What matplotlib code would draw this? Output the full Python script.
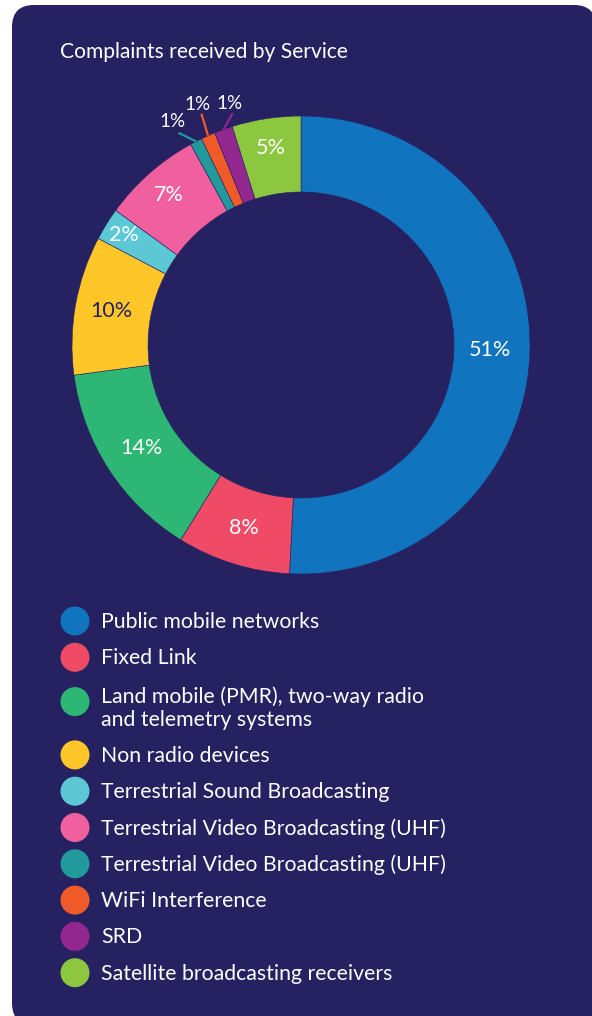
#!/usr/bin/env python
# Donut chart: complaints received by service

import numpy as np
import matplotlib
matplotlib.use('Agg')
import matplotlib.pyplot as plt
from matplotlib.patches import FancyBboxPatch, Circle

plt.rcParams['font.family'] = ['Lato', 'DejaVu Sans']

#### data
services = ['Public mobile networks',
            'Fixed Link',
            'Land mobile (PMR), two-way radio\nand telemetry systems',
            'Non radio devices',
            'Terrestrial Sound Broadcasting',
            'Terrestrial Video Broadcasting (UHF)',
            'Terrestrial Video Broadcasting (UHF)',
            'WiFi Interference',
            'SRD',
            'Satellite broadcasting receivers']
shares = [50.8, 8.0, 14.1, 9.8, 2.3, 7.0, 0.85, 1.0, 1.3, 4.85]
labels = ['%d%%' % round(v) for v in shares]
colors = ['#1174BE', '#EF4B67', '#2DB674', '#FFC629', '#5CC8D6',
          '#F0609E', '#22999A', '#F15A29', '#92278F', '#8DC63F']
title = 'Complaints received by Service'

bg = '#262262'
W, H = 592, 1016

fig = plt.figure(figsize=(W/100., H/100.), dpi=100)
fig.patch.set_facecolor('white')

# background axes in pixel coordinates (y down)
base = fig.add_axes([0, 0, 1, 1])
base.set_xlim(0, W)
base.set_ylim(H, 0)
base.axis('off')
card = FancyBboxPatch((12, 5), 584, 1020, boxstyle='round,pad=0,rounding_size=22',
                      fc=bg, ec='none')
base.add_patch(card)
base.text(60, 52, title, color='white', fontsize=15.1, va='center', ha='left')

#### legend
y = 621.
for i, (name, c) in enumerate(zip(services, colors)):
    nl = name.count('\n')
    my = y + 8*nl
    base.add_patch(Circle((75, my), 14.5, fc=c, ec='none'))
    base.text(101, my + 1 + 5.5*nl, name, color='white', fontsize=15.3,
              va='center', ha='left', linespacing=1.2)
    y += 36.3 + 25*nl

#### donut
cx, cy, R = 301, 345, 229
ax = fig.add_axes([(cx-R)/W, (H-cy-R)/H, 2*R/W, 2*R/H])
wedges, _ = ax.pie(shares, colors=colors, startangle=90, counterclock=False,
                   radius=1.0, wedgeprops=dict(width=76./R, edgecolor=bg, linewidth=0.4))
ax.set_xlim(-1, 1)
ax.set_ylim(-1, 1)
ax.set_aspect('equal')
ax.axis('off')

cum = np.cumsum([0] + shares[:-1])
mids = np.radians((cum + np.array(shares)/2.)/100.*360.)

# label radius for slices inside the ring
inner_r = {0: 0.825, 1: 0.835, 2: 0.83, 3: 0.84, 4: 0.91, 5: 0.875, 9: 0.87}
# outside labels for thin slices: (label angle deg, label radius, line end radius)
outer = {6: (330.0, 1.125, 1.07), 7: (336.7, 1.145, 1.10), 8: (343.6, 1.10, 1.055)}

for i, lab in enumerate(labels):
    a = mids[i]
    if i in outer:
        la, lr, le = outer[i]
        la = np.radians(la)
        ax.plot([np.sin(a)*1.0, np.sin(la)*le], [np.cos(a)*1.0, np.cos(la)*le],
                color=colors[i], lw=1.6, solid_capstyle='butt', clip_on=False)
        ax.text(np.sin(la)*lr, np.cos(la)*lr, lab, color='white', fontsize=13.5,
                ha='center', va='center', clip_on=False)
    else:
        r = inner_r[i]
        tc = bg if i == 3 else 'white'
        ax.text(np.sin(a)*r, np.cos(a)*r, lab, color=tc, fontsize=15.5,
                ha='center', va='center')

fig.savefig('out.png', dpi=100, facecolor=fig.get_facecolor())
